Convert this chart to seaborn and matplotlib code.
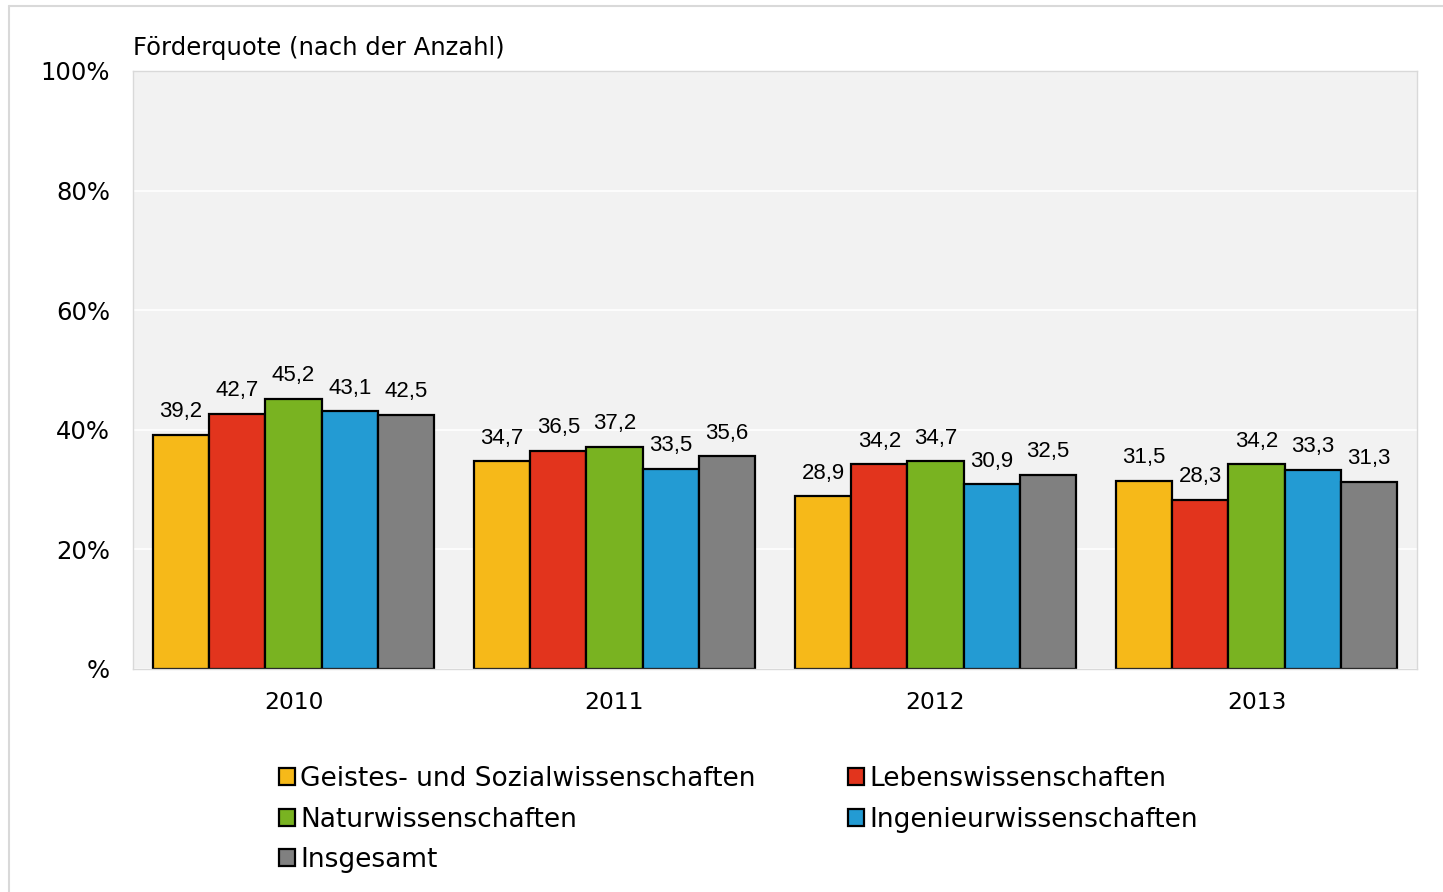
import matplotlib
matplotlib.use("Agg")
import matplotlib.pyplot as plt
import seaborn as sns
import pandas as pd
from matplotlib.lines import Line2D

years = ["2010", "2011", "2012", "2013"]
categories = ["Geistes- und Sozialwissenschaften", "Lebenswissenschaften",
              "Naturwissenschaften", "Ingenieurwissenschaften", "Insgesamt"]
geistes = [39.2, 34.7, 28.9, 31.5]
leben = [42.7, 36.5, 34.2, 28.3]
natur = [45.2, 37.2, 34.7, 34.2]
ingenieur = [43.1, 33.5, 30.9, 33.3]
insgesamt = [42.5, 35.6, 32.5, 31.3]
colors = ["#F6B919", "#E2341D", "#79B321", "#239BD3", "#808080"]
yticks = [0, 20, 40, 60, 80, 100]
ytick_labels = ["%", "20%", "40%", "60%", "80%", "100%"]

series = [geistes, leben, natur, ingenieur, insgesamt]
rows = []
for cat, vals in zip(categories, series):
    for y, v in zip(years, vals):
        rows.append({"Jahr": y, "Bereich": cat, "Wert": v})
df = pd.DataFrame(rows)

sns.set_theme(style="white")
plt.rcParams['font.family'] = ['DejaVu Sans']

fig = plt.figure(figsize=(14.43, 8.92), dpi=100)
ax = fig.add_axes([133/1443, 1 - 669/892, (1417-133)/1443, (669-71)/892])
ax.set_facecolor("#F2F2F2")

sns.barplot(data=df, x="Jahr", y="Wert", hue="Bereich", hue_order=categories,
            palette=colors, edgecolor="black", linewidth=1.6, width=0.876,
            saturation=1, ax=ax, legend=True)

for cont in ax.containers:
    labels = [f"{v:.1f}".replace(".", ",") for v in cont.datavalues]
    ax.bar_label(cont, labels=labels, padding=9, fontsize=16,
                 family="Liberation Sans", color="black")

ax.set_ylim(0, 100)
ax.set_xlim(-0.5, 3.5)
ax.set_yticks(yticks)
ax.set_yticklabels(ytick_labels, fontsize=17.5, color="black")
ax.yaxis.grid(True, color="white", linewidth=1.2)
ax.set_axisbelow(True)
ax.set_xlabel("")
ax.set_ylabel("")
ax.set_xticks(range(len(years)))
ax.set_xticklabels(years, fontsize=16.8, color="black")
ax.set_xticks([-0.5, 0.5, 1.5, 2.5, 3.5], minor=True)
ax.tick_params(axis="x", which="major", length=0, pad=16)
ax.tick_params(axis="x", which="minor", length=5, color="#D9D9D9", width=1)
ax.tick_params(axis="y", which="major", length=5, color="#D9D9D9", width=1, pad=11.5)
for s in ax.spines.values():
    s.set_color("#D9D9D9")
    s.set_linewidth(1)

ax.text(0, 1.018, "Förderquote (nach der Anzahl)", transform=ax.transAxes,
        fontsize=17.5, ha="left", va="bottom", color="black")

handles, labs = ax.get_legend_handles_labels()
order = [0, 2, 4, 1, 3]
leg = ax.legend([handles[i] for i in order], [labs[i] for i in order],
                ncol=2, loc="upper left", bbox_to_anchor=(279/1443, 1 - 766/892),
                bbox_transform=fig.transFigure, frameon=False, fontsize=19,
                labelcolor="black",
                handlelength=0.6, handleheight=0.6, handletextpad=0.2,
                columnspacing=3.5, labelspacing=0.55, borderaxespad=0, borderpad=0)
for h in leg.legend_handles:
    h.set_edgecolor("black")
    h.set_linewidth(1.6)

fig.add_artist(Line2D([9/1443, 1], [1 - 6/892, 1 - 6/892], color="#D9D9D9", lw=1.5, transform=fig.transFigure))
fig.add_artist(Line2D([9/1443, 9/1443], [0, 1 - 6/892], color="#D9D9D9", lw=1.5, transform=fig.transFigure))

fig.savefig("out.png", dpi=100, facecolor="white")
